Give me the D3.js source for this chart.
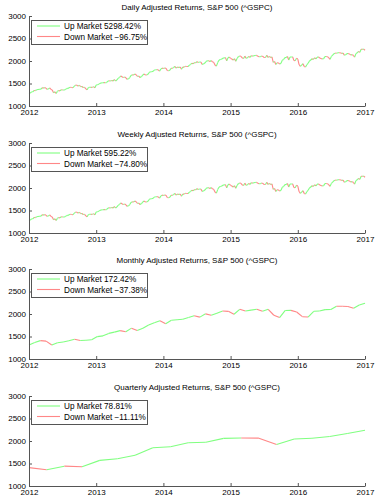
<!DOCTYPE html>
<html>
<head>
<meta charset="utf-8">
<script src="https://d3js.org/d3.v7.min.js"></script>
<style>
  body { margin: 0; background: #fff; }
  text { font-family: "Liberation Sans", Arial, sans-serif; }
</style>
</head>
<body>
<svg id="canvas"></svg>
<script>
(function () {

    const width = 389;
    const height = 500;
    const margin = { left: 29, right: 24 };
    const plotHeight = 90;
    const panelTops = [16, 143, 269, 396];
    const upColor = "rgb(128, 255, 128)";
    const downColor = "rgb(255, 135, 135)";
    const axisColor = "#555";
    const tickSize = 8;

    const years = [2012, 2013, 2014, 2015, 2016, 2017];
    const yTicks = [1000, 1500, 2000, 2500, 3000];

    const titles = [
        "Daily Adjusted Returns, S&P 500 (^GSPC)",
        "Weekly Adjusted Returns, S&P 500 (^GSPC)",
        "Monthly Adjusted Returns, S&P 500 (^GSPC)",
        "Quarterly Adjusted Returns, S&P 500 (^GSPC)"
    ];
    const upLabels = ["Up Market 5298.42%", "Up Market 595.22%", "Up Market 172.42%", "Up Market 78.81%"];
    const downLabels = ["Down Market \u221296.75%", "Down Market \u221274.80%", "Down Market \u221237.38%", "Down Market \u221211.11%"];

    // weekly closes, Jan 2012 - Dec 2016
    const weeklyClose = [
        1277.8, 1289.1, 1315.4, 1316.3, 1344.9, 1342.6, 1361.2, 1365.7, 1369.6, 1370.9, 1404.2, 1397.1, 1408.5,
        1398.1, 1370.3, 1378.5, 1403.4, 1369.1, 1353.4, 1295.2, 1317.8, 1278.0, 1325.7, 1342.8, 1335.0, 1362.2,
        1354.7, 1356.8, 1362.7, 1386.0, 1391.0, 1405.9, 1418.2, 1411.1, 1406.6, 1437.9, 1465.8, 1460.2, 1440.7,
        1460.9, 1428.6, 1433.2, 1411.9, 1414.2, 1379.9, 1359.9, 1409.2, 1416.2, 1418.1, 1413.6, 1430.2, 1402.4,
        1466.5, 1472.1, 1486.0, 1503.0, 1513.2, 1517.9, 1519.8, 1515.6, 1518.2, 1551.2, 1560.7, 1556.9, 1569.2,
        1553.3, 1588.9, 1555.3, 1582.2, 1614.4, 1633.7, 1667.5, 1649.6, 1630.7, 1643.4, 1626.7, 1592.4, 1606.3,
        1631.9, 1680.2, 1692.1, 1691.7, 1709.7, 1691.4, 1655.8, 1663.5, 1633.0, 1655.2, 1688.0, 1709.9, 1691.8,
        1690.5, 1703.2, 1744.5, 1759.8, 1761.6, 1770.6, 1798.2, 1804.8, 1805.8, 1805.1, 1775.3, 1818.3, 1841.4,
        1831.4, 1842.4, 1838.7, 1790.3, 1782.6, 1797.0, 1838.6, 1836.3, 1859.5, 1878.0, 1841.1, 1866.5, 1857.6,
        1865.1, 1815.7, 1864.9, 1863.4, 1881.1, 1878.5, 1877.9, 1900.5, 1923.6, 1949.4, 1936.2, 1962.9, 1961.0,
        1985.4, 1967.6, 1978.2, 1978.3, 1925.2, 1931.6, 1955.1, 1988.4, 2003.4, 2007.7, 1985.5, 2010.4, 1982.9,
        1967.9, 1906.1, 1886.8, 1964.6, 2018.1, 2031.9, 2039.8, 2063.5, 2067.6, 2075.4, 2002.3, 2070.7, 2088.8,
        2058.2, 2044.8, 2019.4, 2051.8, 1995.0, 2055.5, 2097.0, 2110.3, 2104.5, 2071.3, 2053.4, 2108.1, 2061.0,
        2067.0, 2102.1, 2081.2, 2117.7, 2108.3, 2116.1, 2122.7, 2126.1, 2107.4, 2092.8, 2094.1, 2110.0, 2101.5,
        2076.8, 2076.6, 2126.6, 2079.7, 2103.8, 2077.6, 2091.5, 1970.9, 1988.9, 1921.2, 1961.1, 1958.0, 1931.3,
        1951.4, 2014.9, 2033.1, 2075.2, 2079.4, 2099.2, 2023.0, 2089.2, 2090.1, 2091.7, 2012.4, 2005.6, 2061.0, 2043.9,
        1922.0, 1880.3, 1906.9, 1940.2, 1880.1, 1864.8, 1917.8, 1948.1, 2000.0, 2022.2, 2049.6, 2035.9, 2072.8,
        2047.6, 2080.7, 2091.6, 2065.3, 2057.1, 2046.6, 2052.3, 2099.1, 2099.1, 2096.1, 2071.2, 2037.4, 2103.0,
        2129.9, 2161.7, 2175.0, 2173.6, 2182.9, 2184.1, 2183.9, 2169.0, 2180.0, 2127.8, 2139.2, 2164.7, 2168.3,
        2153.7, 2133.0, 2141.2, 2126.4, 2085.2, 2164.5, 2181.9, 2213.4, 2192.0, 2259.5, 2258.1, 2263.8, 2238.8
    ];

    // daily panel drawn from the same weekly sample (too dense to tell apart at this size)
    const dailyClose = weeklyClose;

    const monthlyClose = [
        1312.4, 1365.7, 1408.5, 1397.9, 1310.3, 1362.2, 1379.3, 1406.6, 1440.7, 1412.2, 1416.2, 1426.2,
        1498.1, 1514.7, 1569.2, 1597.6, 1630.7, 1606.3, 1685.7, 1633.0, 1681.6, 1756.5, 1805.8, 1848.4,
        1782.6, 1859.5, 1872.3, 1884.0, 1923.6, 1960.2, 1930.7, 2003.4, 1972.3, 2018.1, 2067.6, 2058.9,
        1995.0, 2104.5, 2067.9, 2085.5, 2107.4, 2063.1, 2103.8, 1972.2, 1920.0, 2079.4, 2080.4, 2043.9,
        1940.2, 1932.2, 2059.7, 2065.3, 2097.0, 2098.9, 2173.6, 2171.0, 2168.3, 2126.2, 2198.8, 2238.8
    ];

    const quarterlyClose = [
        1408.5, 1362.2, 1440.7, 1426.2, 1569.2, 1606.3, 1681.6, 1848.4, 1872.3, 1960.2,
        1972.3, 2058.9, 2067.9, 2063.1, 1920.0, 2043.9, 2059.7, 2098.9, 2168.3, 2238.8
    ];

    const series = [dailyClose, weeklyClose, monthlyClose, quarterlyClose];

    const svg = d3.select("#canvas")
        .attr("width", width)
        .attr("height", height);

    const x = d3.scaleLinear()
        .domain([2012, 2017])
        .range([margin.left, width - margin.right]);

    series.forEach((values, k) => {
        const top = panelTops[k];
        const y = d3.scaleLinear()
            .domain([1000, 3000])
            .range([top + plotHeight, top]);

        // samples are spread evenly over the five years
        const t = d3.scaleLinear().domain([0, values.length - 1]).range([2012, 2017]);
        const segs = d3.pairs(values.map((v, i) => [t(i), v]));

        const g = svg.append("g");

        g.selectAll("line.seg")
            .data(segs)
            .enter()
            .append("line")
            .attr("class", "seg")
            .attr("x1", d => x(d[0][0]))
            .attr("y1", d => y(d[0][1]))
            .attr("x2", d => x(d[1][0]))
            .attr("y2", d => y(d[1][1]))
            .attr("stroke", d => d[1][1] >= d[0][1] ? upColor : downColor)
            .attr("stroke-width", 1.1);

        const xAxis = g.append("g")
            .attr("transform", `translate(0,${top + plotHeight})`)
            .call(d3.axisTop(x).tickValues(years).tickFormat(d3.format("d")).tickSize(3).tickSizeOuter(0));
        xAxis.selectAll("text")
            .attr("y", 8.5)
            .attr("dy", 0)
            .attr("font-size", tickSize)
            .attr("fill", "#000");

        const yAxis = g.append("g")
            .attr("transform", `translate(${margin.left},0)`)
            .call(d3.axisRight(y).tickValues(yTicks).tickFormat(d3.format("d")).tickSize(3).tickSizeOuter(0));
        yAxis.selectAll("text")
            .attr("x", -3)
            .attr("dy", "0.3em")
            .attr("text-anchor", "end")
            .attr("font-size", tickSize)
            .attr("fill", "#000");

        [xAxis, yAxis].forEach(a => {
            a.select(".domain").attr("stroke", axisColor);
            a.selectAll(".tick line").attr("stroke", axisColor);
        });

        g.append("text")
            .attr("x", (x.range()[0] + x.range()[1]) / 2)
            .attr("y", top - 6)
            .attr("text-anchor", "middle")
            .attr("font-size", 8)
            .text(titles[k]);

        // legend
        const lg = g.append("g").attr("transform", `translate(31,${top + 4})`);
        lg.append("rect")
            .attr("x", 0.5).attr("y", 0.5)
            .attr("width", 116).attr("height", 24)
            .attr("fill", "#fff")
            .attr("stroke", axisColor);
        const entries = [[upLabels[k], upColor], [downLabels[k], downColor]];
        entries.forEach(([label, color], j) => {
            const ly = 6 + j * 10.5;
            lg.append("line")
                .attr("x1", 6).attr("x2", 29)
                .attr("y1", ly).attr("y2", ly)
                .attr("stroke", color)
                .attr("stroke-width", 1.1);
            lg.append("text")
                .attr("x", 33)
                .attr("y", ly + 3)
                .attr("font-size", 8.2)
                .text(label);
        });
    });

})();
</script>
</body>
</html>
